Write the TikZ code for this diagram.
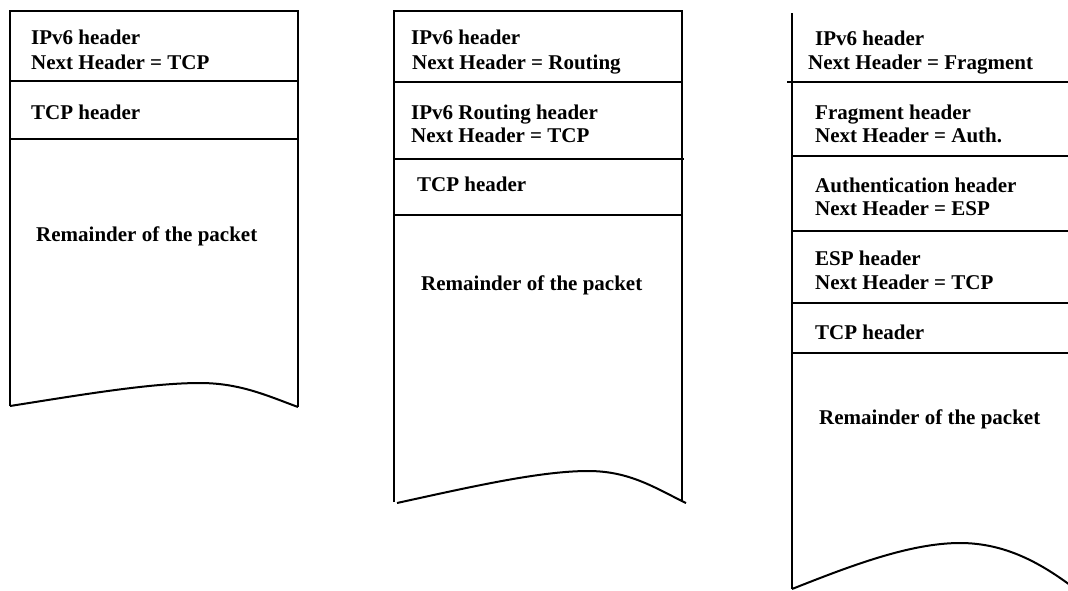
\documentclass[tikz,border=0pt]{standalone}
\usepackage{fontspec}
\setmainfont{Liberation Serif}
\begin{document}
\begin{tikzpicture}[x=1pt,y=-1pt,
  edge/.style={line width=2pt, line cap=butt},
  lbl/.style={anchor=base west, inner sep=0pt, font=\fontsize{21}{24}\selectfont\bfseries}]
\useasboundingbox (0,0) rectangle (1068,590);
\clip (0,0) rectangle (1068,590);
% ---------- packet 1 ----------
\draw[edge] (10,406) -- (10,11) -- (298,11) -- (298,407);
\draw[edge] (10,81) -- (298,81);
\draw[edge] (10,139) -- (298,139);
\draw[edge] (10,406) .. controls (80,395) and (150,383) .. (200,383)
                     .. controls (240,383) and (268,396) .. (298,407);
\node[lbl] (a1) at (31,44) {IPv6 header};
\node[lbl] (a2) at (31,69) {Next Header = TCP};
\node[lbl] (a3) at (31,119) {TCP header};
\node[lbl] (a4) at (36,241) {Remainder of the packet};
% ---------- packet 2 ----------
\draw[edge] (394,502) -- (394,11) -- (682,11) -- (682,502);
\draw[edge] (394,82) -- (682,82);
\draw[edge] (394,159) -- (684,159);
\draw[edge] (394,215) -- (682,215);
\draw[edge] (397,503) .. controls (470,487) and (540,471) .. (588,471)
                      .. controls (630,471) and (655,488) .. (686,503);
\node[lbl] (b1) at (411,44) {IPv6 header};
\node[lbl] (b2) at (412,69) {Next Header = Routing};
\node[lbl] (b3) at (411,119) {IPv6 Routing header};
\node[lbl] (b4) at (411,142) {Next Header = TCP};
\node[lbl] (b5) at (417,191) {TCP header};
\node[lbl] (b6) at (421,290) {Remainder of the packet};
% ---------- packet 3 ----------
\draw[edge] (792,589) -- (792,13);
\draw[edge] (787,82) -- (1068,82);
\draw[edge] (792,156) -- (1068,156);
\draw[edge] (792,231) -- (1068,231);
\draw[edge] (792,303) -- (1068,303);
\draw[edge] (792,353) -- (1068,353);
\draw[edge] (792,589) .. controls (850,566) and (910,543) .. (960,543)
                      .. controls (1005,543) and (1040,563) .. (1070,585);
\node[lbl] (c1) at (815,45) {IPv6 header};
\node[lbl] (c2) at (808,69) {Next Header = Fragment};
\node[lbl] (c3) at (815,119) {Fragment header};
\node[lbl] (c4) at (815,142) {Next Header = Auth.};
\node[lbl] (c5) at (815,192) {Authentication header};
\node[lbl] (c6) at (815,215) {Next Header = ESP};
\node[lbl] (c7) at (815,265) {ESP header};
\node[lbl] (c8) at (815,289) {Next Header = TCP};
\node[lbl] (c9) at (815,339) {TCP header};
\node[lbl] (c10) at (819,424) {Remainder of the packet};
\end{tikzpicture}
\end{document}
